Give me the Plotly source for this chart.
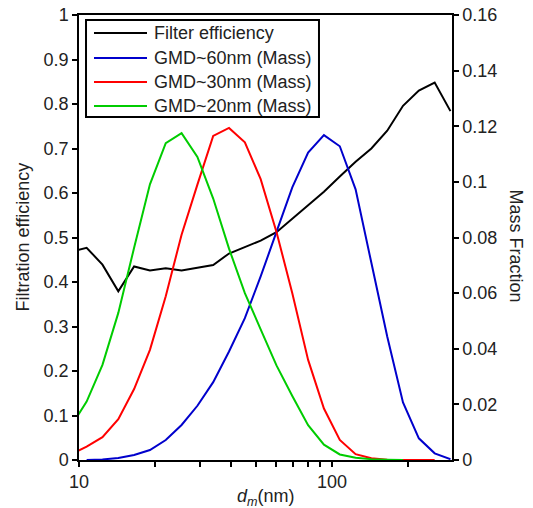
import plotly.graph_objects as go

# Mobility diameter bins (nm)
diameters = [9.28, 10.72, 12.38, 14.30, 16.51, 19.07, 22.02, 25.43, 29.37, 33.91,
             39.16, 45.23, 52.23, 60.31, 69.65, 80.43, 92.88, 107.3, 123.9, 143.0,
             165.2, 190.7, 220.3, 254.4, 293.7]

filter_eff = [0.468, 0.477, 0.439, 0.379, 0.435, 0.426, 0.431, 0.426, 0.432, 0.438,
              0.464, 0.478, 0.493, 0.512, 0.542, 0.572, 0.603, 0.637, 0.670, 0.700,
              0.740, 0.796, 0.830, 0.848, 0.784]

gmd60_mass = [0.0, 0.0002, 0.0007, 0.0018, 0.0036, 0.0072, 0.0126, 0.0195, 0.028, 0.039,
              0.051, 0.066, 0.082, 0.098, 0.1105, 0.1168, 0.1128, 0.0973, 0.0709, 0.0444,
              0.0207, 0.0078, 0.0024, 0.0003]

gmd30_mass = [0.002, 0.0048, 0.0082, 0.0147, 0.0255, 0.0396, 0.0589, 0.081, 0.099, 0.1165,
              0.1194, 0.1142, 0.101, 0.082, 0.060, 0.036, 0.0185, 0.0072, 0.0021, 0.0006,
              0.0001, 0.0, 0.0, 0.0]

gmd20_mass = [0.012, 0.021, 0.0342, 0.0529, 0.0763, 0.0991, 0.1139, 0.1175, 0.1090, 0.094,
              0.076, 0.060, 0.047, 0.034, 0.023, 0.0125, 0.0055, 0.002, 0.0008, 0.0003,
              0.0001, 0.0]

series_names = ["Filter efficiency", "GMD~60nm (Mass)", "GMD~30nm (Mass)", "GMD~20nm (Mass)"]
series_colors = ["#000000", "#0000CC", "#FF0000", "#00CC00"]

x_major_ticks = [10, 100]
x_major_labels = ["10", "100"]
x_minor_ticks = [20, 30, 40, 50, 60, 70, 80, 90, 200]

FONT = "Liberation Sans, Arial, sans-serif"
TXT = "#222222"

fig = go.Figure()
fig.add_trace(go.Scatter(x=diameters[:len(filter_eff)], y=filter_eff, mode="lines",
                         name=series_names[0], line=dict(color=series_colors[0], width=2)))
fig.add_trace(go.Scatter(x=diameters[1:1 + len(gmd60_mass)], y=gmd60_mass, mode="lines",
                         name=series_names[1], line=dict(color=series_colors[1], width=2),
                         yaxis="y2"))
fig.add_trace(go.Scatter(x=diameters[:len(gmd30_mass)], y=gmd30_mass, mode="lines",
                         name=series_names[2], line=dict(color=series_colors[2], width=2),
                         yaxis="y2"))
fig.add_trace(go.Scatter(x=diameters[:len(gmd20_mass)], y=gmd20_mass, mode="lines",
                         name=series_names[3], line=dict(color=series_colors[3], width=2),
                         yaxis="y2"))

axis_common = dict(ticks="outside", ticklen=5, tickwidth=1.5, tickcolor="#000",
                   showline=True, linecolor="#000", linewidth=1.5,
                   showgrid=False, zeroline=False, automargin=False,
                   ticklabeloverflow="allow")

fig.update_layout(
    width=533, height=508,
    margin=dict(l=79, r=81, t=15, b=48),
    paper_bgcolor="white", plot_bgcolor="white",
    font=dict(family=FONT, size=18, color=TXT),
    xaxis=dict(type="log", range=[1, 2.474], tickmode="array",
               tickvals=x_major_ticks, ticktext=x_major_labels, mirror=True,
               minor=dict(tickmode="array", tickvals=x_minor_ticks, ticks="outside",
                          ticklen=5, tickwidth=1.5, tickcolor="#000"),
               **axis_common),
    yaxis=dict(range=[0, 1], dtick=0.1, **axis_common),
    yaxis2=dict(range=[0, 0.16], dtick=0.02, overlaying="y", side="right",
                **axis_common),
    showlegend=False,
)

# Axis titles
fig.add_annotation(text="<i>d</i><sub><i>m</i></sub>(nm)", xref="paper", yref="paper",
                   x=0.5, y=0, yshift=-37, xanchor="center", yanchor="middle",
                   showarrow=False, font=dict(size=18, color=TXT))
fig.add_annotation(text="Filtration efficiency", textangle=-90, xref="paper", yref="paper",
                   x=0, y=0.5, xshift=-57, xanchor="center", yanchor="middle",
                   showarrow=False, font=dict(size=18, color=TXT))
fig.add_annotation(text="Mass Fraction", textangle=90, xref="paper", yref="paper",
                   x=1, y=0.5, xshift=64, yshift=-8, xanchor="center", yanchor="middle",
                   showarrow=False, font=dict(size=18, color=TXT))

# Legend box (drawn inside the plot area, top-left)
fig.add_shape(type="rect", xref="paper", yref="paper", x0=0.0188, x1=0.6434,
              y0=0.7708, y1=0.9888, fillcolor="white", line=dict(color="#000", width=2),
              layer="above")
legend_rows = [0.9596, 0.9034, 0.8494, 0.7955]
for name, color, yrow in zip(series_names, series_colors, legend_rows):
    fig.add_shape(type="line", xref="paper", yref="paper", x0=0.0402, x1=0.1823,
                  y0=yrow, y1=yrow, line=dict(color=color, width=2), layer="above")
    fig.add_annotation(text=name, xref="paper", yref="paper", x=0.1957, y=yrow,
                       xanchor="left", yanchor="middle", showarrow=False,
                       font=dict(size=18, color=TXT))

# Remove the default 8px page margin so the figure fills the window exactly
fig.write_html("out.html",
               config={"displayModeBar": False},
               post_script="document.body.style.margin='0';"
                           "document.documentElement.style.overflow='hidden';")
